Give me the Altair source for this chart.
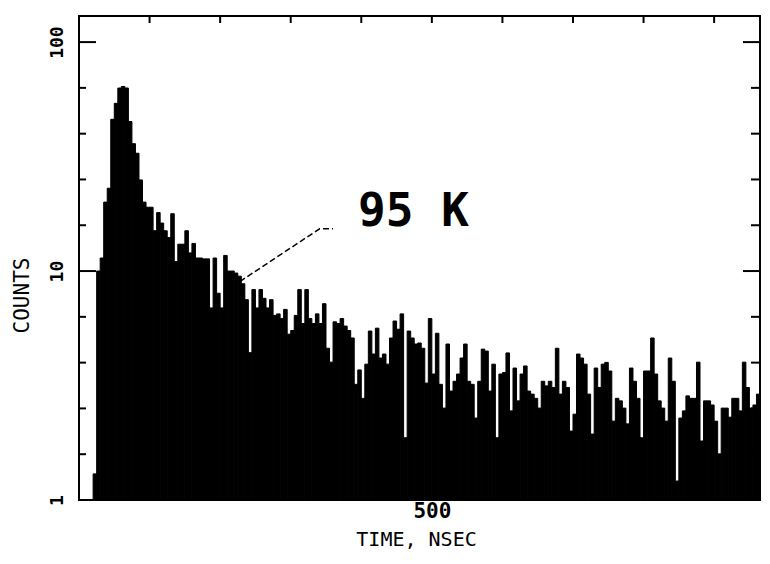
import altair as alt
import pandas as pd

# ---- data ----
BIN_START = 20   # ns, left edge of first channel
BIN_WIDTH = 5    # ns per channel

counts_rise = [1.3, 10, 11.4, 20, 23, 46, 54, 63, 64, 63,
               45, 36, 32.7, 25, 20, 19, 19, 15, 18, 16.2]
counts_decay = [15, 14, 17.8, 11, 13.1, 13.1, 15, 12, 13.2, 11.4,
                11.4, 11.3, 11.3, 6.9, 11.4, 8.0, 6.9, 11.7, 10, 10,
                9.8, 9.5, 8.8, 7.5, 4.4, 8.3, 6.9, 8.3, 7.6, 6.9,
                7.5, 6.4, 6.5, 6.2, 6.8, 5.3, 5.5, 6.4, 8.3, 5.9,
                8.3, 6.2, 5.9, 6.5, 5.9, 7.2, 4.6, 4.0, 6.0, 5.9,
                6.2, 5.75, 5.5, 5.1, 3.2, 3.7]
counts_tail = [2.78, 3.92, 5.47, 4.34, 5.63, 4.17, 4.34, 3.92, 5.1, 6.05,
               5.57, 6.5, 1.87, 5.47, 5.1, 4.8, 4.85, 4.6, 3.24, 6.2,
               3.55, 5.35, 3.2, 2.52, 4.8, 2.99, 3.3, 3.55, 4.17, 4.8,
               3.3, 3.2, 2.28, 3.3, 4.56, 4.47, 2.99, 3.92, 1.87, 3.55,
               3.6, 4.39, 2.45, 3.77, 2.71, 3.55, 3.85, 2.99, 2.9, 2.78,
               2.52, 3.3, 3.15, 3.3, 3.1, 4.6, 2.9, 3.3, 3.1, 2.0,
               2.37, 4.34, 4.17, 3.92, 2.9, 1.94, 3.77, 3.1, 3.92, 3.99,
               3.66, 2.21, 2.78, 2.71, 2.52, 2.15, 3.77, 3.3, 2.78, 1.87,
               3.66, 3.66, 5.1, 3.55, 2.71, 2.52, 2.21, 4.17, 3.3, 1.21,
               2.28, 2.45, 2.85, 2.78, 2.78, 4.0, 1.81, 2.71, 2.71, 2.6,
               2.21, 1.59, 2.52, 2.52, 2.3, 2.78, 2.78, 2.45, 4.0, 3.1,
               2.52, 2.6, 2.9]

x_domain = [0, 965]
y_domain = [1, 130]
x_tick_labels = [500]
y_tick_labels = [1, 10, 100]
y_minor_ticks = [1.585, 2.512, 3.981, 6.31, 15.85, 25.12, 39.81, 63.1]
y_major_ticks = [1, 10, 100]
top_ticks = [100, 200, 300, 400, 500, 600, 700, 800, 900]

annot_text = ["95 K"]
annot_t = [474]
annot_v = [15.7]
leader_t = [228, 341, 360]
leader_v = [9.0, 15.3, 15.3]

# ---- tables ----
counts = counts_rise + counts_decay + counts_tail
t0 = [BIN_START + BIN_WIDTH * i for i in range(len(counts))]
t1 = [a + BIN_WIDTH for a in t0]
df = pd.DataFrame({"t0": t0, "t1": t1, "count": counts})

FONT = "DejaVu Sans Mono"
W, H = 681, 484
x_scale = alt.Scale(domain=x_domain, nice=False, zero=False)
y_scale = alt.Scale(type="log", domain=y_domain, nice=False)

x_axis = alt.Axis(values=x_tick_labels, format="d", ticks=False, tickSize=0,
                  domain=False, grid=False, labelFont=FONT, labelFontSize=21,
                  labelFontWeight="bold",
                  labelColor="black", labelPadding=0, labelFlush=False,
                  title="TIME, NSEC", titleFont=FONT, titleFontSize=20,
                  titleFontWeight="normal", titleColor="black",
                  titleY=39, titleX=337, titleBaseline="middle", titleAlign="center")
y_axis = alt.Axis(values=y_tick_labels, format="d", ticks=False, tickSize=0,
                  domain=False, grid=False, labelFont=FONT, labelFontSize=18,
                  labelFontWeight="bold",
                  labelColor="black", labelAngle=270, labelAlign="center",
                  labelBaseline="bottom", labelPadding=13, labelFlush=False,
                  labelOverlap=False,
                  title="COUNTS", titleFont=FONT, titleFontSize=21,
                  titleFontWeight="normal", titleColor="black", titleAngle=270,
                  titleX=-57, titleY=279, titleAlign="center",
                  titleBaseline="middle")

bars = alt.Chart(df).mark_bar(color="black", stroke="black", strokeWidth=1).encode(
    x=alt.X("t0:Q", scale=x_scale, axis=x_axis),
    x2="t1:Q",
    y=alt.Y("count:Q", scale=y_scale, axis=y_axis),
    y2=alt.datum(1),
)

minor_df = pd.DataFrame({"v": y_minor_ticks})
major_df = pd.DataFrame({"v": y_major_ticks})
top_df = pd.DataFrame({"t": top_ticks})

left_minor = alt.Chart(minor_df).mark_rule(color="black", strokeWidth=2).encode(
    y=alt.Y("v:Q", scale=y_scale, axis=y_axis), x=alt.value(0), x2=alt.value(7))
left_major = alt.Chart(major_df).mark_rule(color="black", strokeWidth=2).encode(
    y=alt.Y("v:Q", scale=y_scale, axis=y_axis), x=alt.value(0), x2=alt.value(17))
right_minor = alt.Chart(minor_df).mark_rule(color="black", strokeWidth=2).encode(
    y=alt.Y("v:Q", scale=y_scale, axis=y_axis), x=alt.value(W), x2=alt.value(W - 9))
right_major = alt.Chart(major_df).mark_rule(color="black", strokeWidth=2).encode(
    y=alt.Y("v:Q", scale=y_scale, axis=y_axis), x=alt.value(W), x2=alt.value(W - 17))
top_tk = alt.Chart(top_df).mark_rule(color="black", strokeWidth=2).encode(
    x=alt.X("t:Q", scale=x_scale, axis=x_axis), y=alt.value(0), y2=alt.value(7))

leader_df = pd.DataFrame({"t": leader_t, "v": leader_v, "o": list(range(len(leader_t)))})
leader = alt.Chart(leader_df).mark_line(color="black", strokeWidth=1.5,
                                         strokeDash=[6, 3]).encode(
    x=alt.X("t:Q", scale=x_scale, axis=x_axis),
    y=alt.Y("v:Q", scale=y_scale, axis=y_axis),
    order="o:Q")

annot_df = pd.DataFrame({"t": annot_t, "v": annot_v, "label": annot_text})
annot = alt.Chart(annot_df).mark_text(font=FONT, fontSize=46, fontWeight="bold",
                                       color="black",
                                       align="center", baseline="alphabetic").encode(
    x=alt.X("t:Q", scale=x_scale, axis=x_axis),
    y=alt.Y("v:Q", scale=y_scale, axis=y_axis),
    text="label:N")

chart = alt.layer(bars, left_minor, left_major, right_minor, right_major, top_tk,
                  leader, annot).properties(
    width=W, height=H,
    autosize=alt.AutoSizeParams(type="none"),
    padding={"left": 71, "top": 8, "right": 2, "bottom": 58},
    background="white",
).configure_view(stroke="black", strokeWidth=2)

chart.save("out.html", embed_options={"renderer": "svg", "actions": False})
